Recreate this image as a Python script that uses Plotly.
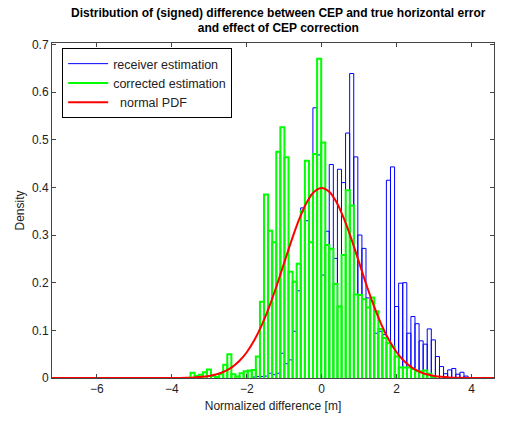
import plotly.graph_objects as go

# ---- data ----
bin_width = 0.109
green_first_center = -3.447
green_density = [0.011, 0.004, 0.007, 0.012, 0.018, 0.004, 0.002, 0.008, 0.028, 0.050,
                 0.008, 0.003, 0.010, 0.014, 0.016, 0.017, 0.045, 0.160, 0.385, 0.309,
                 0.285, 0.475, 0.526, 0.463, 0.223, 0.202, 0.240, 0.350, 0.456, 0.285,
                 0.470, 0.670, 0.494, 0.279, 0.271, 0.197, 0.150, 0.258, 0.394, 0.362,
                 0.175, 0.174, 0.165, 0.148, 0.169, 0.140, 0.103, 0.084, 0.073, 0.066,
                 0.045, 0.022, 0.022, 0.022, 0.019, 0.014, 0.014, 0.016, 0.009, 0.002]
blue_first_center = -1.815
blue_density = [0.002, 0.003, 0.003, 0.004, 0.010, 0.007, 0.010, 0.052, 0.030, 0.038,
                0.098, 0.183, 0.357, 0.330, 0.384, 0.567, 0.468, 0.216, 0.308, 0.448,
                0.251, 0.438, 0.410, 0.514, 0.639, 0.464, 0.300, 0.272, 0.168, 0.161,
                0.094, 0.098, 0.091, 0.415, 0.443, 0.150, 0.199, 0.200, 0.094, 0.129,
                0.114, 0.078, 0.071, 0.103, 0.080, 0.045, 0.024, 0.009, 0.017, 0.020,
                0.008, 0.012, 0.004]
pdf_x = [-7.2, -4.0, -3.6, -3.4, -3.2, -3.0, -2.8, -2.6, -2.4, -2.2, -2.0, -1.8, -1.6,
         -1.4, -1.2, -1.0, -0.8, -0.6, -0.4, -0.2, 0.0, 0.2, 0.4, 0.6, 0.8, 1.0, 1.2,
         1.4, 1.6, 1.8, 2.0, 2.2, 2.4, 2.6, 2.8, 3.0, 3.2, 3.4, 3.6, 4.0, 4.6]
pdf_y = [0.0, 0.0001, 0.0006, 0.0012, 0.0024, 0.0044, 0.0079, 0.0136, 0.0224, 0.0355,
         0.0540, 0.0790, 0.1109, 0.1497, 0.1942, 0.2420, 0.2897, 0.3332, 0.3683, 0.3910,
         0.3989, 0.3910, 0.3683, 0.3332, 0.2897, 0.2420, 0.1942, 0.1497, 0.1109, 0.0790,
         0.0540, 0.0355, 0.0224, 0.0136, 0.0079, 0.0044, 0.0024, 0.0012, 0.0006, 0.0001, 0.0]
names = ["receiver estimation", "corrected estimation", "  normal PDF"]
x_ticks = [-6, -4, -2, 0, 2, 4]
y_ticks = [0, 0.1, 0.2, 0.3, 0.4, 0.5, 0.6, 0.7]
y_tick_labels = ["0", "0.1", "0.2", "0.3", "0.4", "0.5", "0.6", "0.7"]


def outline(first_center, heights, width):
    """Build histogram bar outlines (rectangles) from bin centres and heights."""
    xs, ys = [], []
    for i, h in enumerate(heights):
        c = first_center + i * width
        l, r = c - width / 2, c + width / 2
        xs += [l, l, r, r, None]
        ys += [0, h, h, 0, None]
    return xs, ys


BLUE = "#0000ff"
GREEN = "#00ff00"
RED = "#ff0000"
FONT = "Liberation Sans, Arial, sans-serif"

fig = go.Figure()
bx, by = outline(blue_first_center, blue_density, bin_width)
gx, gy = outline(green_first_center, green_density, bin_width)
fig.add_trace(go.Scatter(x=bx, y=by, mode="lines", line=dict(color=BLUE, width=1),
                         name=names[0], legendrank=1))
fig.add_trace(go.Scatter(x=gx, y=gy, mode="lines", line=dict(color=GREEN, width=2),
                         name=names[1], legendrank=2))
fig.add_trace(go.Scatter(x=pdf_x, y=pdf_y, mode="lines",
                         line=dict(color=RED, width=2, shape="spline"),
                         name=names[2], legendrank=3))

fig.update_layout(
    width=506, height=422,
    margin=dict(l=52, r=11, t=43, b=42),
    paper_bgcolor="white", plot_bgcolor="white",
    font=dict(family=FONT, size=12, color="#222"),
    title=dict(text="<b>Distribution of (signed) difference between CEP and true horizontal error<br>and effect of CEP correction</b>",
               x=0.55, xanchor="center", yref="container", y=0.96, yanchor="top",
               font=dict(family=FONT, size=12, color="black")),
    legend=dict(x=0.023, y=0.985, xanchor="left", yanchor="top",
                bgcolor="white", bordercolor="black", borderwidth=1,
                font=dict(family=FONT, size=12.5, color="#222"),
                tracegroupgap=0, itemwidth=40),
    xaxis=dict(range=[-7.2, 4.6], tickvals=x_ticks, ticks="inside", ticklen=4,
               showline=True, linecolor="#444", linewidth=1, mirror="allticks",
               showgrid=False, zeroline=False, tickcolor="#444",
               title=dict(text="Normalized difference [m]", standoff=6,
                          font=dict(family=FONT, size=12, color="#222")),
               tickfont=dict(family=FONT, size=12, color="#222")),
    yaxis=dict(range=[0, 0.703], tickvals=y_ticks, ticktext=y_tick_labels,
               ticks="inside", ticklen=4,
               showline=True, linecolor="#444", linewidth=1, mirror="allticks",
               showgrid=False, zeroline=False, tickcolor="#444",
               title=dict(text="Density", standoff=4,
                          font=dict(family=FONT, size=12, color="#222")),
               tickfont=dict(family=FONT, size=12, color="#222")),
)

fig.write_html("out.html")
